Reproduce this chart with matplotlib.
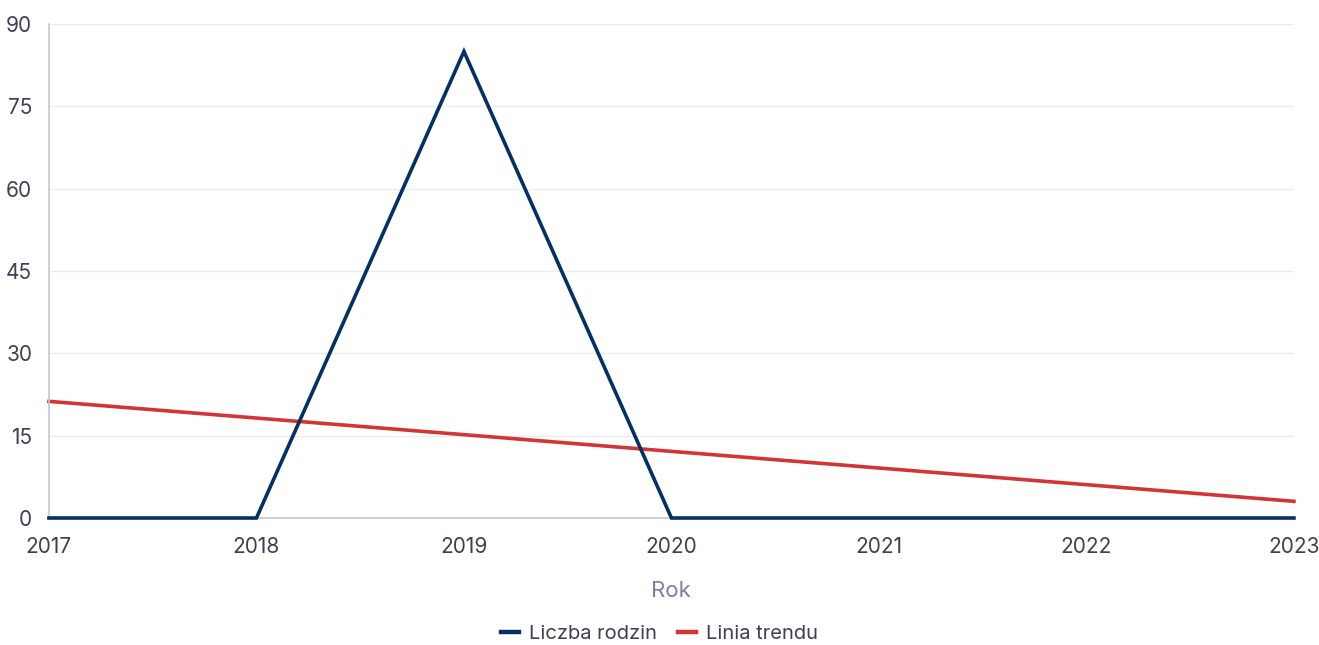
import matplotlib.pyplot as plt
import numpy as np

plt.rcParams['font.family'] = ['Inter', 'DejaVu Sans']

years = [2017, 2018, 2019, 2020, 2021, 2022, 2023]
families = [0, 0, 85, 0, 0, 0, 0]
trend = [21.25, 18.21, 15.18, 12.14, 9.11, 6.07, 3.04]

blue = '#05305f'
red = '#d23535'
tick_col = '#3f3f55'

fig = plt.figure(figsize=(13.19, 6.45), dpi=100)
ax = fig.add_axes([0.0371, 0.1969, 0.9439, 0.7659])

ax.plot(years, families, color=blue, lw=2.6, label='Liczba rodzin', zorder=3,
        solid_joinstyle='miter', clip_on=False)
ax.plot(years, trend, color=red, lw=2.6, label='Linia trendu', zorder=2, clip_on=False)

ax.set_xlim(2017, 2023)
ax.set_ylim(0, 90)
ax.set_yticks(np.arange(0, 91, 15))
ax.set_xticks(years)
ax.grid(axis='y', color='#ebebf0', lw=1)
ax.set_axisbelow(True)

for s in ['top', 'right']:
    ax.spines[s].set_visible(False)
ax.spines['left'].set_color('#c4c6d6')
ax.spines['bottom'].set_color('#c4c6d6')
ax.spines['left'].set_linewidth(1.2)
ax.spines['bottom'].set_linewidth(1.2)

ax.tick_params(axis='both', length=0, labelsize=15, colors=tick_col)
ax.tick_params(axis='x', pad=14)
ax.tick_params(axis='y', pad=12)

ax.set_xlabel('Rok', fontsize=16, color='#7b7fa3', labelpad=17)

leg = fig.legend(loc='center', bbox_to_anchor=(0.5, 1 - 634 / 645), ncol=2, frameon=False,
                 fontsize=14.5, handlelength=0.9, handletextpad=0.5, columnspacing=1.0)
for t in leg.get_texts():
    t.set_color(tick_col)
for h in leg.get_lines():
    h.set_linewidth(3.2)

fig.savefig('out.png', dpi=100)
